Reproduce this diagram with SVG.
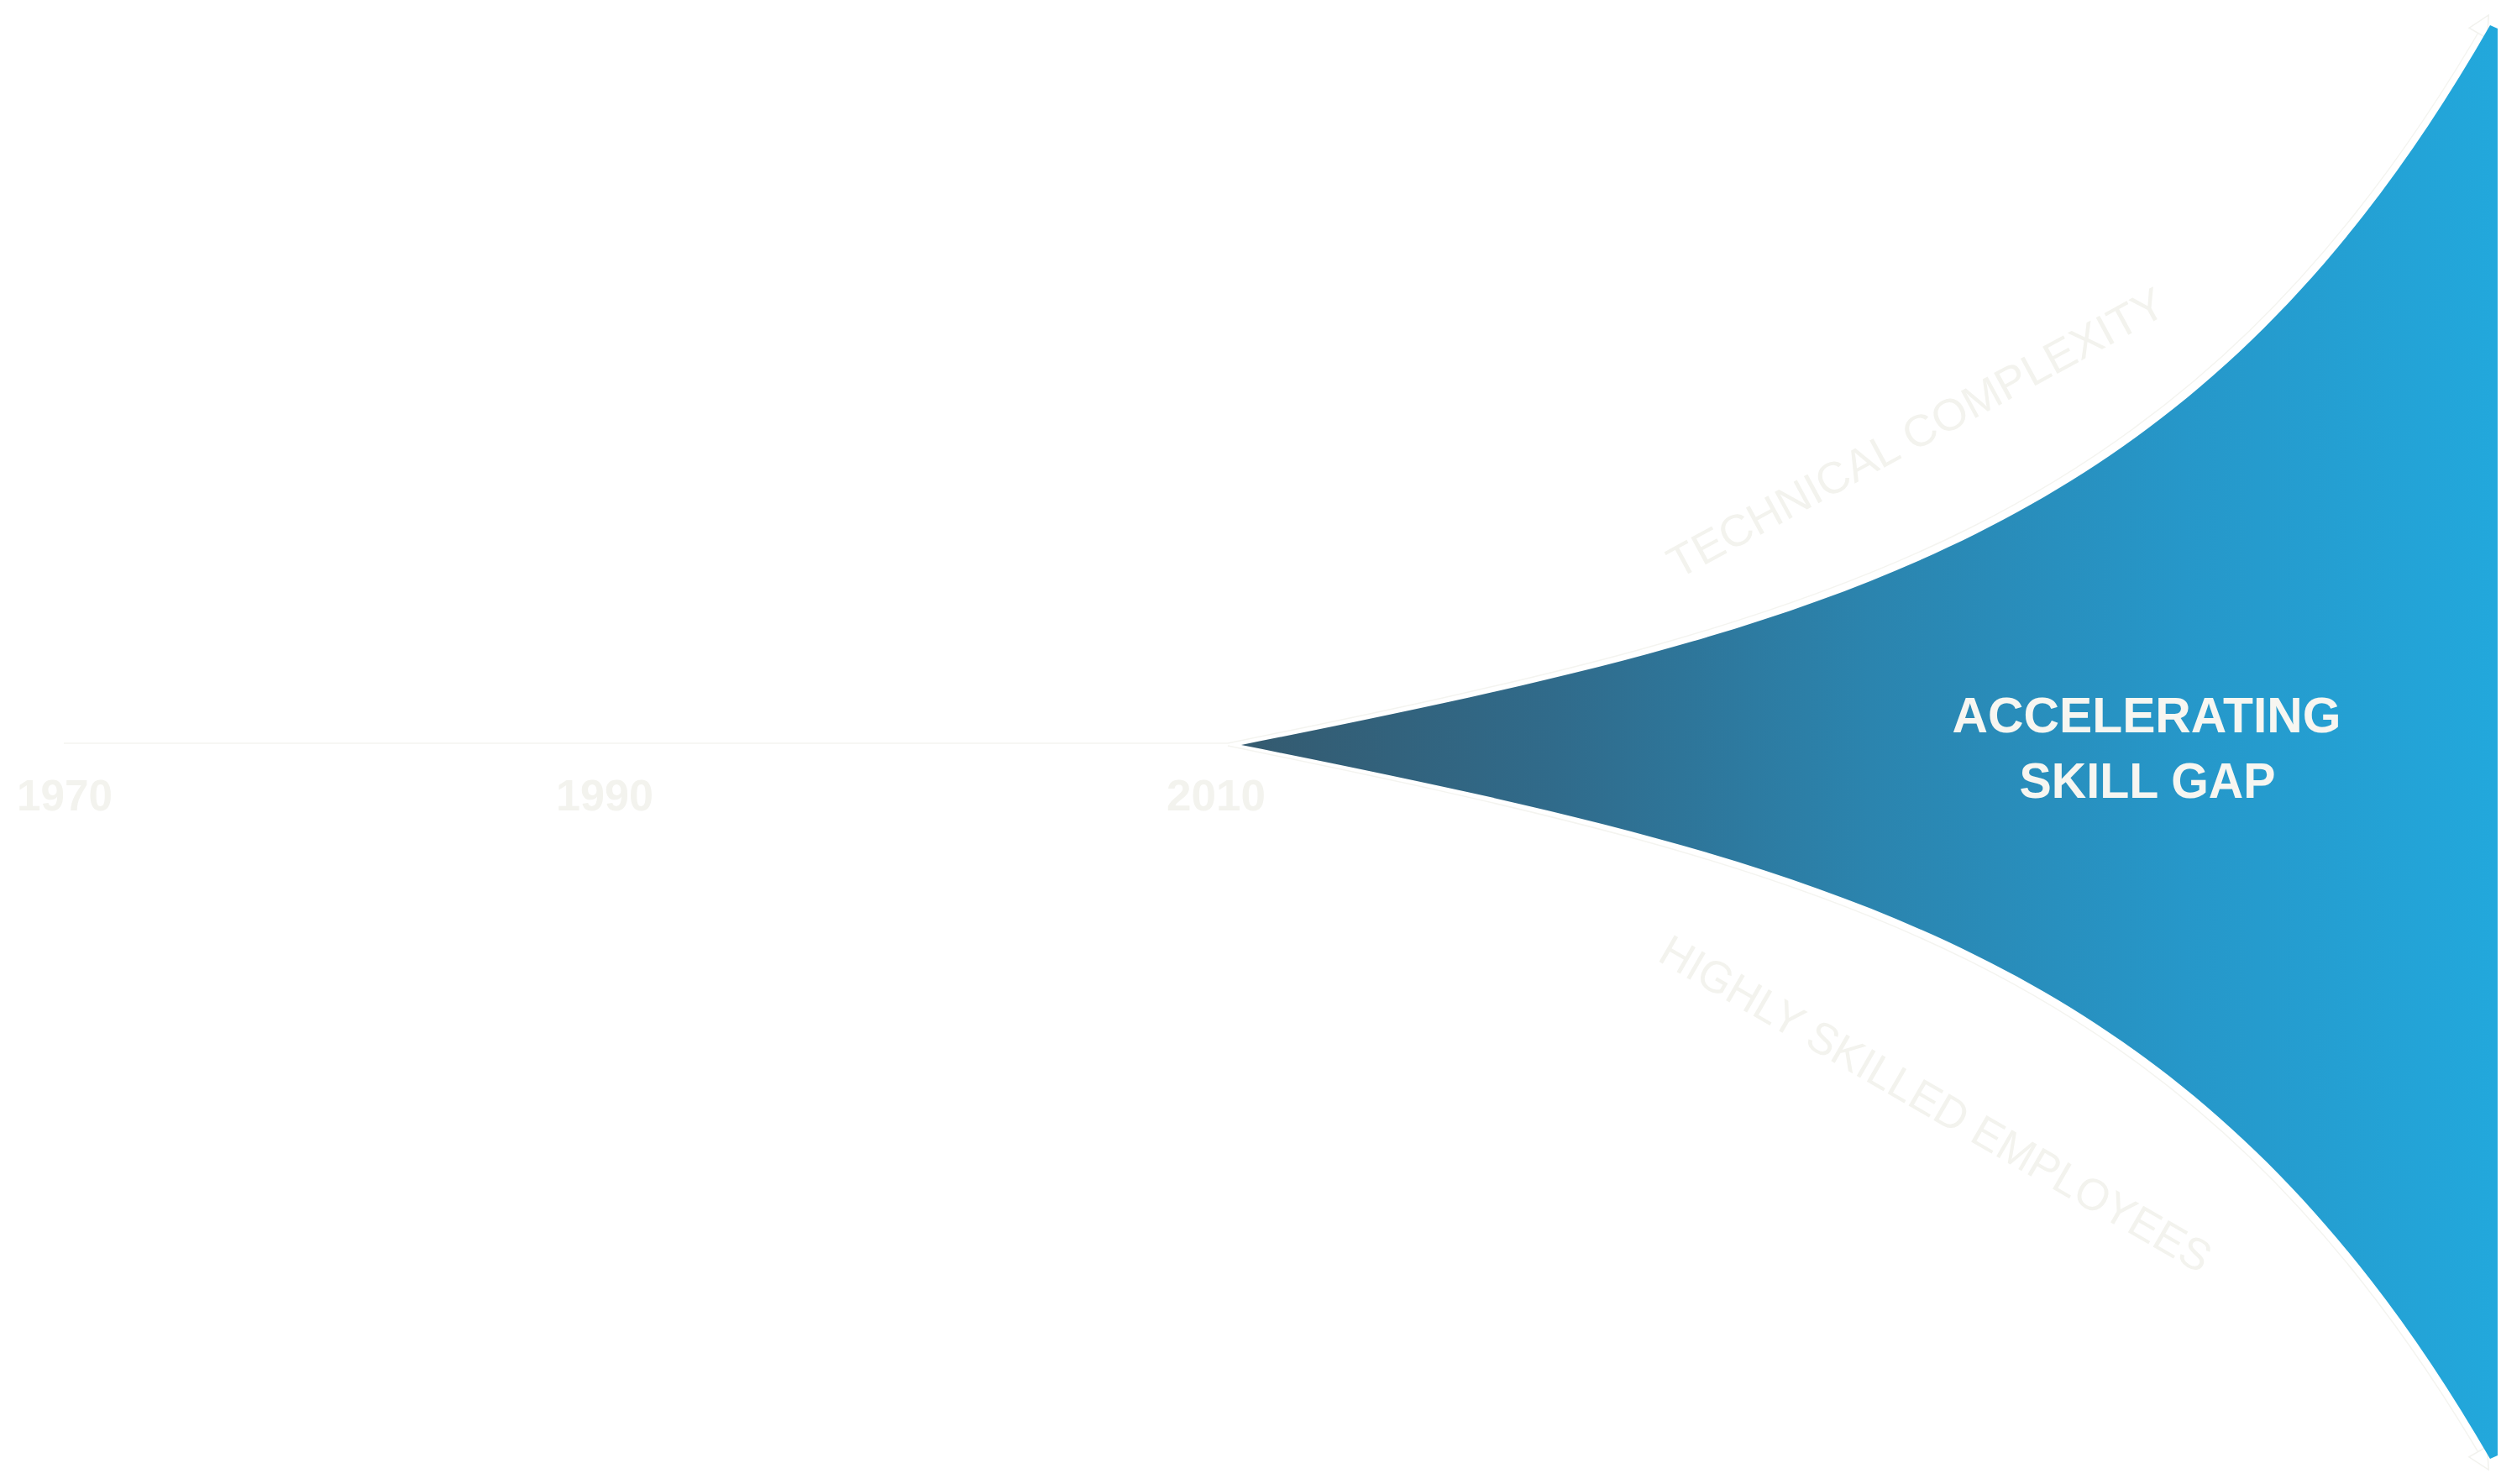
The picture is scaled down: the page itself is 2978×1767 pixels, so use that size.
<svg xmlns="http://www.w3.org/2000/svg" width="2978" height="1767" viewBox="0 0 2978 1767">
  <defs>
    <linearGradient id="gapGrad" gradientUnits="userSpaceOnUse" x1="1478" y1="0" x2="2974" y2="0">
      <stop offset="0" stop-color="#345a6f"/>
      <stop offset="0.25" stop-color="#306b8b"/>
      <stop offset="0.5" stop-color="#2b84ae"/>
      <stop offset="0.75" stop-color="#2697c9"/>
      <stop offset="1" stop-color="#22a8dc"/>
    </linearGradient>
    <marker id="arrow" viewBox="0 0 12 12" refX="10" refY="6" markerWidth="30" markerHeight="30" markerUnits="userSpaceOnUse" orient="auto">
      <path d="M1,1 L11,6 L1,11 Z" fill="#ffffff" stroke="#f2f2ee" stroke-width="0.6"/>
    </marker>
    <style>
      .conn { fill: none; stroke: #f4f4f0; stroke-width: 1.5; }
      .year { font-family: "Liberation Sans", Arial, sans-serif; font-weight: 700; font-size: 52px; fill: #f3f3ee; }
      .axis { font-family: "Liberation Sans", Arial, sans-serif; font-weight: 400; font-size: 53px; fill: #f3f3ee; }
      .title { font-family: "Liberation Sans", Arial, sans-serif; font-weight: 700; font-size: 60px; fill: #f7f6f1; text-anchor: middle; }
    </style>
  </defs>
  <rect width="2978" height="1767" fill="#ffffff"/>

  <g id="connectors">
    <line class="conn" x1="76" y1="885" x2="1462" y2="885"/>
    <path class="conn" d="M1462,885 C2172,740 2608,635 2962,20" marker-end="url(#arrow)"/>
    <path class="conn" d="M1462,888 C2172,1034 2608,1139 2962,1748" marker-end="url(#arrow)"/>
  </g>

  <g id="timeline-labels">
    <text class="year" x="20" y="965" textLength="114" lengthAdjust="spacingAndGlyphs">1970</text>
    <text class="year" x="662" y="965" textLength="116" lengthAdjust="spacingAndGlyphs">1990</text>
    <text class="year" x="1389" y="965" textLength="118" lengthAdjust="spacingAndGlyphs">2010</text>
  </g>

  <g id="skill-gap">
    <path d="M1478,887 C2178,747 2615,642.5 2965,30 L2974,34 L2974,1733 L2965,1737 C2615,1131.5 2178,1027 1478,887 Z" fill="url(#gapGrad)"/>
    <text class="title" x="2556" y="872" textLength="463" lengthAdjust="spacingAndGlyphs">ACCELERATING</text>
    <text class="title" x="2557" y="950" textLength="305" lengthAdjust="spacingAndGlyphs">SKILL GAP</text>
  </g>

  <g id="technical-complexity">
    <text class="axis" transform="translate(1998,690) rotate(-28.5)" textLength="665" lengthAdjust="spacingAndGlyphs">TECHNICAL COMPLEXITY</text>
  </g>

  <g id="highly-skilled-employees">
    <text class="axis" transform="translate(1972,1143) rotate(30)" textLength="748" lengthAdjust="spacingAndGlyphs">HIGHLY SKILLED EMPLOYEES</text>
  </g>
</svg>
